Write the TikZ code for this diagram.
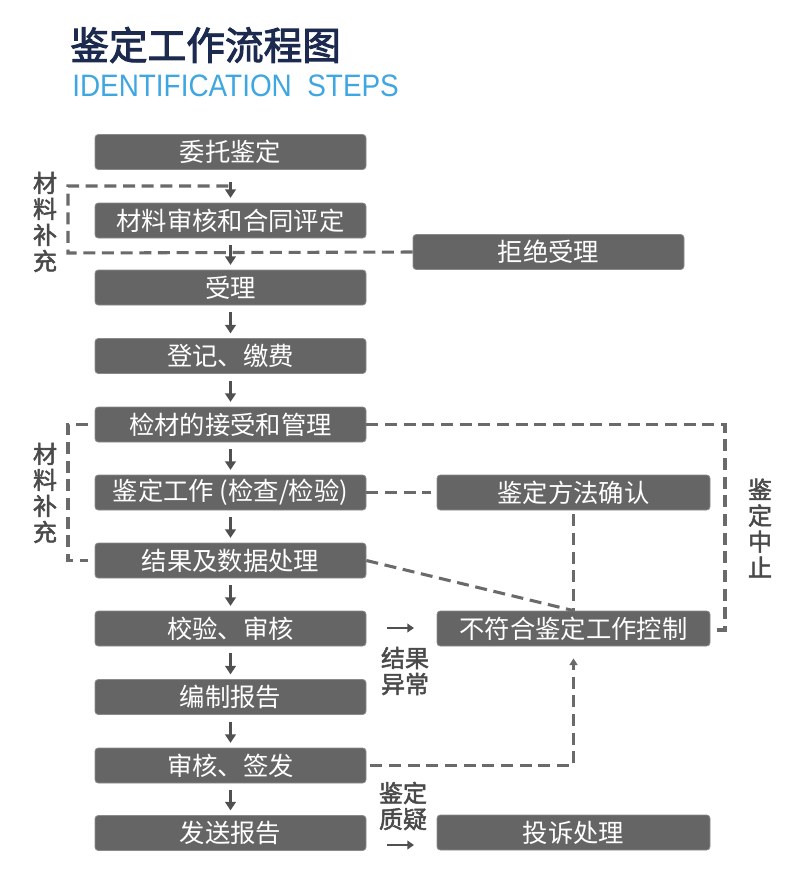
\documentclass[tikz,border=0pt]{standalone}
\usepackage{fontspec}
\usetikzlibrary{arrows.meta}
\newfontfamily\cjk{Noto Sans CJK SC}
\newfontfamily\cjkbold[FakeBold=2.5]{Noto Sans CJK SC}
\newfontfamily\cjkmid[FakeBold=2]{Noto Sans CJK SC}
\newfontfamily\enfont[FakeStretch=0.9]{Liberation Sans}
\definecolor{boxgray}{HTML}{656565}
\definecolor{boxedge}{HTML}{8A8A8A}
\definecolor{arrowgray}{HTML}{505050}
\definecolor{dashgray}{HTML}{6A6A6A}
\definecolor{labelgray}{HTML}{4A4A4A}
\definecolor{titlenavy}{HTML}{1B2A4E}
\definecolor{subblue}{HTML}{3EA6E0}
\begin{document}
\begin{tikzpicture}[x=0.75pt,y=-0.75pt,
  box/.style={draw=boxedge, line width=0.6pt, fill=boxgray, rounded corners=2.5pt,
    minimum width=203.25pt, minimum height=26.25pt, inner sep=0pt, text=white,
    font=\cjk\fontsize{19}{22}\selectfont},
  rbox/.style={box, minimum width=204.75pt},
  flow/.style={-{Triangle[length=6.5pt,width=8pt]}, line width=2.3pt, draw=arrowgray,
    shorten <=5pt, shorten >=3.5pt},
  dashline/.style={line width=2.3pt, draw=dashgray, dash pattern=on 9pt off 5pt},
  smallarrow/.style={-{Triangle[length=5pt,width=6.5pt]}, line width=2.2pt, draw=arrowgray},
  lbl/.style={align=center, inner sep=0pt, text=labelgray,
    font=\cjkmid\fontsize{18}{19.5}\selectfont}
]
\useasboundingbox (0,0) rectangle (800,882);

% title
\node[anchor=west, inner sep=0pt, text=titlenavy] (title) at (70,45)
  {\cjkbold\fontsize{29}{32}\selectfont 鉴定工作流程图};
\node[anchor=west, inner sep=0pt, text=subblue] (sub) at (72,86)
  {\enfont\fontsize{23.25}{26}\selectfont IDENTIFICATION\ \ STEPS};

% main column
\node[box] (n1) at (230.5,152) {委托鉴定};
\node[box] (n2) at (230.5,220.5) {材料审核和合同评定};
\node[box] (rej) at (548.5,252) {拒绝受理};
\node[box] (n3) at (230.5,287.5) {受理};
\node[box] (n4) at (230.5,356) {登记、缴费};
\node[box] (n5) at (230.5,424.5) {检材的接受和管理};
\node[box] (n6) at (230.5,492.5) {鉴定工作 (检查/检验)};
\node[box] (n7) at (230.5,560.5) {结果及数据处理};
\node[box] (n8) at (230.5,628.5) {校验、审核};
\node[box] (n9) at (230.5,697) {编制报告};
\node[box] (n10) at (230.5,765.5) {审核、签发};
\node[box] (n11) at (230.5,833) {发送报告};

% right column
\node[rbox] (m) at (573.5,492.5) {鉴定方法确认};
\node[rbox] (ctrl) at (573.5,628.5) {不符合鉴定工作控制};
\node[rbox] (comp) at (573.5,832.5) {投诉处理};

% coordinates
\coordinate (a1) at (68,186);
\coordinate (a2) at (68,253);
\coordinate (a3) at (230.5,186);
\coordinate (b1) at (68,424.5);
\coordinate (b2) at (68,560.5);
\coordinate (c1) at (725,424.5);
\coordinate (c2) at (725,630);
\coordinate (c3) at (717,630);
\coordinate (s1) at (387,628);
\coordinate (s2) at (414,628);
\coordinate (t1) at (387,845);
\coordinate (t2) at (414,845);

% dashed connections
\draw[dashline] (rej.west) -- (a2) -- (a1) -- (a3);
\draw[dashline, shorten <=5pt, shorten >=5pt] (n5.west) -- (b1) -- (b2) -- (n7.west);
\draw[dashline] (n5.east) -- (c1) -- (c2) -- (c3);
\draw[dashline, shorten >=4pt] (n6.east) -- (m.west);
\draw[dashline, shorten <=3pt] (m.south) -- (ctrl.north);
\draw[dashline] (n7.east) -- (ctrl.north);
\draw[dashline, -{Triangle[length=5pt,width=6pt]}, shorten <=3pt, shorten >=9pt] (n10.east) -| (ctrl.south);

% flow arrows
\draw[flow, shorten <=9pt] (n1) -- (n2);
\draw[flow] (n2) -- (n3);
\draw[flow] (n3) -- (n4);
\draw[flow] (n4) -- (n5);
\draw[flow] (n5) -- (n6);
\draw[flow] (n6) -- (n7);
\draw[flow] (n7) -- (n8);
\draw[flow] (n8) -- (n9);
\draw[flow] (n9) -- (n10);
\draw[flow] (n10) -- (n11);

\draw[smallarrow] (s1) -- (s2);
\draw[smallarrow] (t1) -- (t2);

% labels
\node[lbl] (l1) at (45,222) {材\\料\\补\\充};
\node[lbl] (l2) at (45,493) {材\\料\\补\\充};
\node[lbl] (l3) at (760,528) {鉴\\定\\中\\止};
\node[lbl] (l4) at (405,671) {结果\\异常};
\node[lbl] (l5) at (403,806) {鉴定\\质疑};
\end{tikzpicture}
\end{document}
